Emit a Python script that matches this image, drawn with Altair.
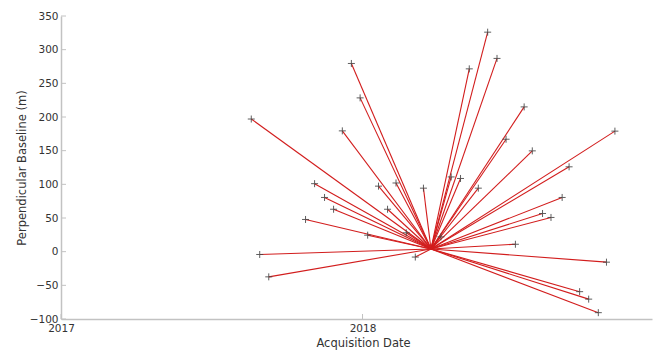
import altair as alt
import pandas as pd

# Master (reference) acquisition
master_date = 2018.227
master_bperp = 4.0

# Slave acquisitions (decimal year, perpendicular baseline in m)
dates = [2017.631, 2017.963, 2017.992, 2017.933, 2018.415, 2018.446, 2018.354,
         2018.536, 2018.476, 2018.563, 2018.837, 2018.685, 2018.662, 2018.597,
         2018.625, 2018.507, 2018.809, 2018.720, 2018.750, 2018.782, 2017.659,
         2017.689, 2017.811, 2017.841, 2017.874, 2017.904, 2018.053, 2018.111,
         2018.202, 2018.294, 2018.325, 2018.384, 2018.083, 2018.145, 2018.175,
         2018.017, 2018.260]
bperp = [197, 279.5, 228.4, 179.4, 326, 287, 271.5,
         215, 167, 149.7, 179, 126, 80.5, 56.7,
         50.8, 11, -15.6, -59.4, -70.5, -90.6, -4.2,
         -37.4, 47.8, 101, 80.5, 63, 97.3, 102,
         94.3, 111, 108.7, 94.3, 63, 28, -8,
         24.5, 22]

y_ticks = [-100, -50, 0, 50, 100, 150, 200, 250, 300, 350]
x_ticks = [2017, 2018]

df = pd.DataFrame({
    "date": dates,
    "bperp": bperp,
    "mdate": [master_date] * len(dates),
    "mbperp": [master_bperp] * len(dates),
})
yt = pd.DataFrame({"v": y_ticks})
xt = pd.DataFrame({"v": x_ticks})

W, H = 591, 303
xscale = alt.Scale(domain=[2017, 2018.96], nice=False, zero=False)
yscale = alt.Scale(domain=[-100, 350], nice=False, zero=False)

font = "DejaVu Sans"
axis_col = "#c2c2c2"
text_col = "#333333"

x_axis = alt.Axis(values=x_ticks, format="d", title="Acquisition Date",
                  titleX=302, titleY=24, titleBaseline="middle",
                  titleAlign="center", labelPadding=4)
y_axis = alt.Axis(values=y_ticks, title="Perpendicular Baseline (m)",
                  titleX=-39, titleY=H / 2, titleBaseline="middle",
                  titleAlign="center", labelPadding=3)

lines = alt.Chart(df).mark_rule(color="#d21d1d", strokeWidth=1.1).encode(
    x=alt.X("mdate:Q", scale=xscale, axis=x_axis),
    y=alt.Y("mbperp:Q", scale=yscale, axis=y_axis),
    x2="date:Q",
    y2="bperp:Q",
)

markers = alt.Chart(df).mark_point(
    shape="M-1,0L1,0M0,-1L0,1", filled=False, size=49,
    color="#444444", strokeWidth=1, opacity=0.85
).encode(
    x=alt.X("date:Q", scale=xscale, axis=x_axis),
    y=alt.Y("bperp:Q", scale=yscale, axis=y_axis),
)

ytick_marks = alt.Chart(yt).mark_rule(color=axis_col, strokeWidth=1).encode(
    y=alt.Y("v:Q", scale=yscale, axis=y_axis),
    x=alt.value(0), x2=alt.value(5),
)
xtick_marks = alt.Chart(xt).mark_rule(color=axis_col, strokeWidth=1).encode(
    x=alt.X("v:Q", scale=xscale, axis=x_axis),
    y=alt.value(H), y2=alt.value(H - 5),
)

chart = alt.layer(lines, ytick_marks, xtick_marks, markers).properties(
    width=W, height=H,
    autosize=alt.AutoSizeParams(type="none"),
    padding={"left": 61, "top": 16, "right": 2, "bottom": 33},
    background="white",
).configure_view(stroke=None).configure_axis(
    labelOverlap=False, labelFlush=False, ticks=False, grid=False,
    domainColor=axis_col, domainWidth=1.5,
    labelFont=font, labelFontSize=10.5, labelColor=text_col,
    titleFont=font, titleFontSize=11.5, titleFontWeight="normal",
    titleColor=text_col,
)

chart.save("out.html", embed_options={"renderer": "svg", "actions": False})
